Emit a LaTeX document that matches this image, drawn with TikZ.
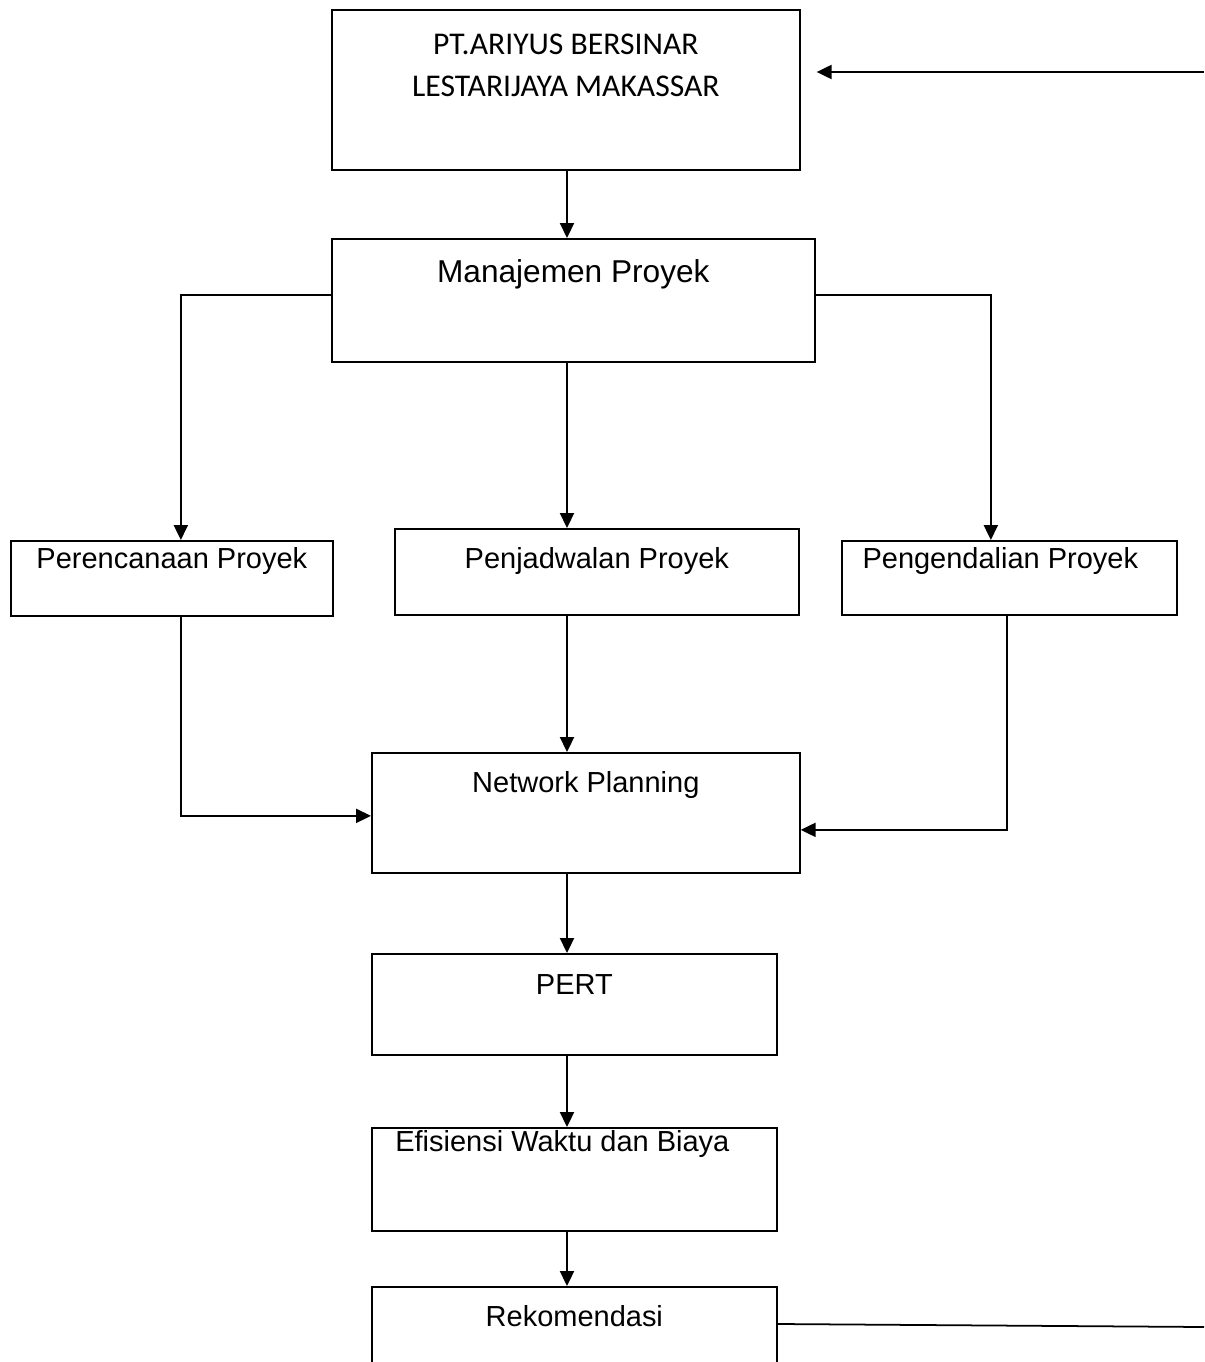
\documentclass[tikz,border=0pt]{standalone}
\usepackage{fontspec}
\setmainfont{Liberation Sans}
\newfontfamily\calibriFont{Carlito}
\usetikzlibrary{arrows.meta, calc, positioning}
\tikzstyle{block} = [rectangle, draw=black, line width=1pt, inner sep=0pt, anchor=north west, align=center, font=\fontsize{16.5}{20}\selectfont]
\tikzstyle{arrowFlow} = [line width=1pt, -{Triangle[length=8.5pt, width=8pt]}]
\tikzstyle{lineFlow} = [line width=1pt]

\begin{document}
\begin{tikzpicture}[x=0.02cm, y=-0.02cm]

    \useasboundingbox (0,0) rectangle (1204,1362);
    \clip (0,0) rectangle (1204,1362);

    \coordinate (spine) at (567,0);
    \coordinate (feedTop) at (1204,72);
    \coordinate (feedBot) at (1204,1327);

    \node (pt) [block, minimum width=9.36cm, text height=1.74cm, text depth=1.46cm, font=\calibriFont\fontsize{18}{23.9}\selectfont] at (331,9) {PT.ARIYUS BERSINAR\\LESTARIJAYA MAKASSAR};
    \node (man) [block, minimum width=9.66cm, text height=0.87cm, text depth=1.59cm, font=\fontsize{18}{22}\selectfont] at (331,238) {Manajemen Proyek};

    \node (per) [block, minimum width=6.44cm, text height=0.56cm, text depth=0.94cm] at (10,540) {Perencanaan Proyek};
    \node (penj) [block, minimum width=8.08cm, text height=0.80cm, text depth=0.92cm] at (394,528) {Penjadwalan Proyek};
    \node (peng) [block, minimum width=6.70cm, text height=0.56cm, text depth=0.92cm] at (841,540) {\hspace*{-0.36cm}Pengendalian Proyek};

    \node (net) [block, minimum width=8.56cm, text height=0.80cm, text depth=1.60cm] at (371,752) {Network Planning};
    \node (pert) [block, minimum width=8.10cm, text height=0.82cm, text depth=1.20cm] at (371,953) {PERT};
    \node (efi) [block, minimum width=8.10cm, text height=0.48cm, text depth=1.58cm] at (371,1127) {\hspace*{-0.48cm}Efisiensi Waktu dan Biaya};
    \node (rek) [block, minimum width=8.10cm, text height=0.80cm, text depth=1.60cm] at (371,1286) {Rekomendasi};

    % main column
    \draw [arrowFlow] (pt.south -| spine) -- (man.north -| spine);
    \draw [arrowFlow] (man.south -| spine) -- (penj.north -| spine);
    \draw [arrowFlow] (penj.south -| spine) -- (net.north -| spine);
    \draw [arrowFlow] (net.south -| spine) -- (pert.north -| spine);
    \draw [arrowFlow] (pert.south -| spine) -- (efi.north -| spine);
    \draw [arrowFlow] (efi.south -| spine) -- (rek.north -| spine);

    % branches
    \draw [arrowFlow] ([yshift=0.11cm]man.west) -| ([xshift=0.18cm]per.north);
    \draw [arrowFlow] ([yshift=0.11cm]man.east) -| ([xshift=-0.37cm]peng.north);
    \draw [arrowFlow] ([xshift=0.18cm]per.south) |- ([yshift=-0.06cm]net.west);
    \draw [arrowFlow] ([xshift=-0.05cm]peng.south) |- ([yshift=-0.34cm]net.east);

    % feedback
    \draw [arrowFlow, shorten >=0.32cm] (feedTop) -- (feedTop -| pt.east);
    \draw [lineFlow] ([yshift=-0.76cm]rek.north east) -- (feedBot);

\end{tikzpicture}
\end{document}
